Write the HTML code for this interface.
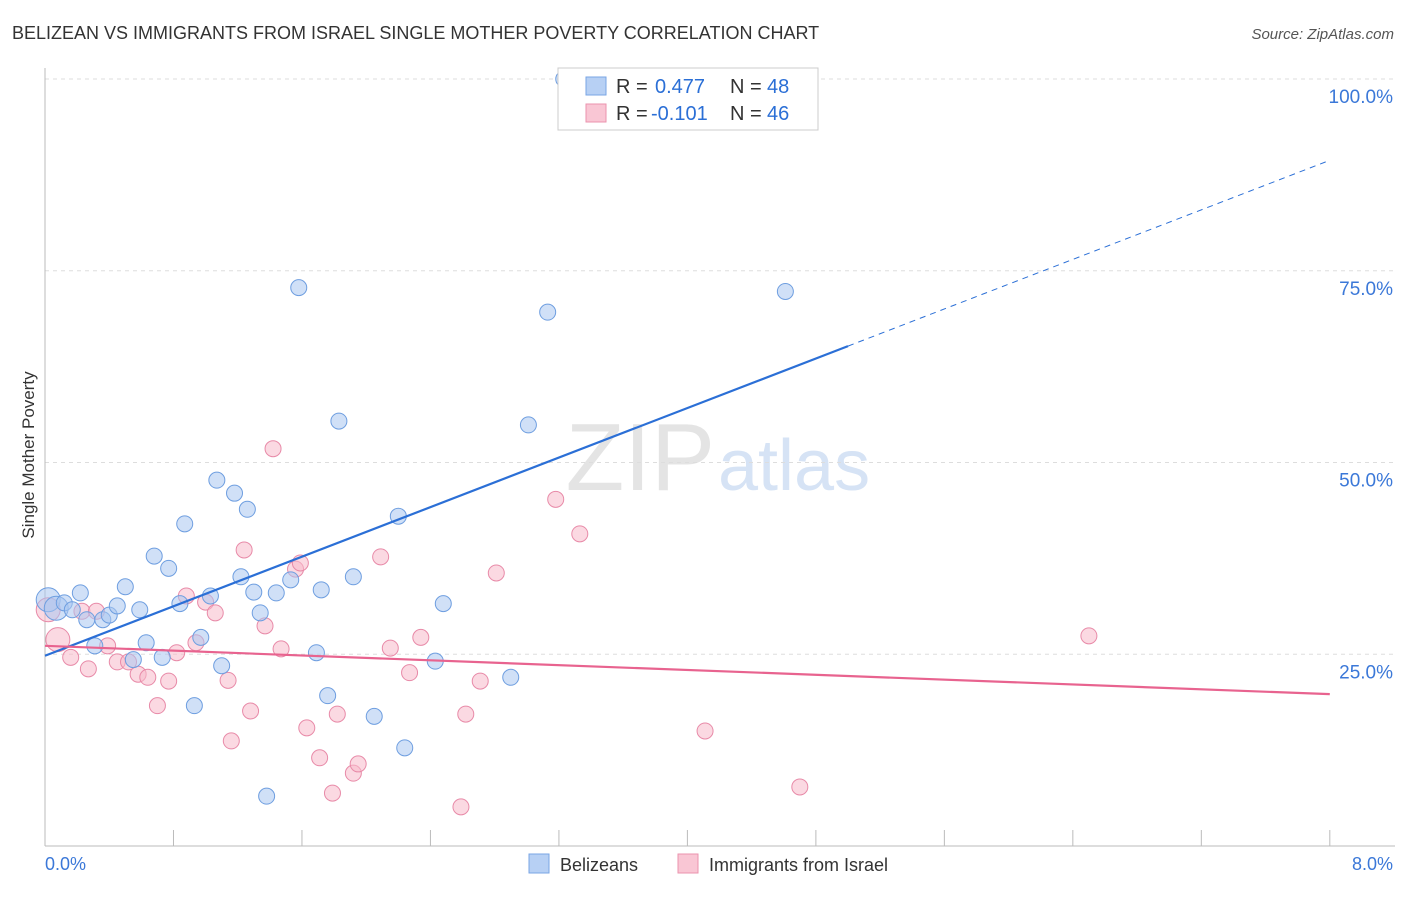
<!DOCTYPE html>
<html><head><meta charset="utf-8"><style>
body{margin:0;background:#fff;font-family:"Liberation Sans",sans-serif;}
svg text{font-family:"Liberation Sans",sans-serif;}
</style></head><body>
<svg id="chart" width="1406" height="892">
<text x="12" y="39" font-size="18" fill="#333">BELIZEAN VS IMMIGRANTS FROM ISRAEL SINGLE MOTHER POVERTY CORRELATION CHART</text>
<text x="1394" y="39" font-size="15" fill="#555" font-style="italic" text-anchor="end">Source: ZipAtlas.com</text>
<text x="34" y="455" font-size="17" fill="#333" text-anchor="middle" transform="rotate(-90 34 455)">Single Mother Poverty</text>
<text x="715" y="490" font-size="96" fill="#e4e4e4" text-anchor="end" font-family="Liberation Serif">ZIP</text>
<text x="718" y="490" font-size="72" fill="#d6e3f5">atlas</text>
<g id="grid"></g><g id="marks"></g>
<g>
<rect x="558" y="68" width="260" height="62" fill="#fff" stroke="#ccc"/>
<rect x="586" y="77" width="20" height="18" fill="#b7d0f4" stroke="#7aa6e4"/>
<text x="616" y="93" font-size="20" fill="#333">R =</text>
<text x="655" y="93" font-size="20" fill="#2b6fd6">0.477</text>
<text x="730" y="93" font-size="20" fill="#333">N =</text>
<text x="767" y="93" font-size="20" fill="#2b6fd6">48</text>
<rect x="586" y="104" width="20" height="18" fill="#f9c6d4" stroke="#eb93ae"/>
<text x="616" y="120" font-size="20" fill="#333">R =</text>
<text x="651" y="120" font-size="20" fill="#2b6fd6">-0.101</text>
<text x="730" y="120" font-size="20" fill="#333">N =</text>
<text x="767" y="120" font-size="20" fill="#2b6fd6">46</text>
</g>
<g>
<rect x="529" y="854" width="20" height="19" fill="#b7d0f4" stroke="#7aa6e4"/>
<text x="560" y="871" font-size="18" fill="#333">Belizeans</text>
<rect x="678" y="854" width="20" height="19" fill="#f9c6d4" stroke="#eb93ae"/>
<text x="709" y="871" font-size="18" fill="#333">Immigrants from Israel</text>
</g>
</svg>
<script>
const yTicks=[25,50,75,100];
const yTickLabels=["25.0%","50.0%","75.0%","100.0%"];
const blueX=[0.02,0.07,0.12,0.17,0.22,0.26,0.31,0.36,0.40,0.45,0.50,0.55,0.59,0.63,0.68,0.73,0.77,0.84,0.87,0.93,0.97,1.03,1.07,1.10,1.18,1.22,1.26,1.30,1.34,1.38,1.44,1.53,1.58,1.69,1.72,1.76,1.83,1.92,2.05,2.20,2.24,2.43,2.48,2.90,3.01,3.13,3.23,4.61];
const blueY=[32.1,31.0,31.7,30.8,33.0,29.5,26.1,29.5,30.1,31.3,33.8,24.3,30.8,26.5,37.8,24.6,36.2,31.6,42.0,18.3,27.2,32.6,47.7,23.5,46.0,35.1,43.9,33.1,30.4,6.5,33.0,34.7,72.8,25.2,33.4,19.6,55.4,35.1,16.9,43.0,12.8,24.1,31.6,22.0,54.9,69.6,100,72.3];
const pinkX=[0.02,0.08,0.16,0.23,0.27,0.32,0.39,0.45,0.52,0.58,0.64,0.70,0.77,0.82,0.88,0.94,1.00,1.06,1.14,1.16,1.24,1.28,1.37,1.42,1.47,1.56,1.59,1.63,1.71,1.79,1.82,1.92,1.95,2.09,2.15,2.27,2.34,2.59,2.62,2.71,2.81,3.18,3.33,4.11,4.70,6.50];
const pinkY=[30.8,26.9,24.6,30.6,23.1,30.6,26.1,24.0,24.0,22.4,22.0,18.3,21.5,25.2,32.6,26.5,31.8,30.4,21.6,13.7,38.6,17.6,28.7,51.8,25.7,36.1,36.9,15.4,11.5,6.9,17.2,9.5,10.7,37.7,25.8,22.6,27.2,5.1,17.2,21.5,35.6,45.2,40.7,15.0,7.7,27.4];
const blueLine=[24.8,89.4];
const pinkLine=[26.1,19.8];
const X=v=>45+v*160.6, Y=v=>846-v*7.67;
const NS="http://www.w3.org/2000/svg";
const grid=document.getElementById('grid'), marks=document.getElementById('marks');
function mk(tag,a,p){const e=document.createElementNS(NS,tag);for(const k in a)e.setAttribute(k,a[k]);p.appendChild(e);return e;}
yTicks.forEach((t,i)=>{
 const l=mk('line',{x1:45,x2:1395,y1:Y(t),y2:Y(t),stroke:'#ddd','stroke-dasharray':'4 4'},grid);
 
 
 const tx=mk('text',{x:1393,y:Y(t)+24,'font-size':19,fill:'#3b78d8','text-anchor':'end'},grid);
 tx.textContent=yTickLabels[i];
 
 
});
const ax=mk('line',{x1:45,x2:1395,y1:846,y2:846,stroke:'#bbb'},grid);


const ay=mk('line',{x1:45,x2:45,y1:68,y2:846,stroke:'#bbb'},grid);


for(let i=0;i<=10;i++){const t=mk('line',{x1:X(i*0.8),x2:X(i*0.8),y1:830,y2:846,stroke:'#bbb'},grid);
 
 }
[["0.0%",45,'start'],["8.0%",1393,'end']].forEach(d=>{const t=mk('text',{x:d[1],y:870,'font-size':18,fill:'#3b78d8','text-anchor':d[2]},grid);t.textContent=d[0];
 
 });
function pts(xs,ys,fill,stroke,name){xs.forEach((x,i)=>{const r=(i<2&&x<0.1)?12:8;
 const c=mk('circle',{cx:X(x),cy:Y(ys[i]),r:r,fill:fill,'fill-opacity':0.55,stroke:stroke,'stroke-width':1},marks);
 
 });}
pts(pinkX,pinkY,'#f7b9cb','#e88aa8','israel-point');
pts(blueX,blueY,'#a9c6f0','#6e9ee0','belizean-point');
const xm=5.0;
const bl=mk('line',{x1:X(0),y1:Y(blueLine[0]),x2:X(xm),y2:Y(blueLine[0]+(blueLine[1]-blueLine[0])*xm/8),stroke:'#2b6fd6','stroke-width':2.2},marks);


const bd=mk('line',{x1:X(xm),y1:Y(blueLine[0]+(blueLine[1]-blueLine[0])*xm/8),x2:X(8),y2:Y(blueLine[1]),stroke:'#2b6fd6','stroke-width':1,'stroke-dasharray':'6 5'},marks);


const pl=mk('line',{x1:X(0),y1:Y(pinkLine[0]),x2:X(8),y2:Y(pinkLine[1]),stroke:'#e8638f','stroke-width':2.2},marks);


</script>
</body></html>
